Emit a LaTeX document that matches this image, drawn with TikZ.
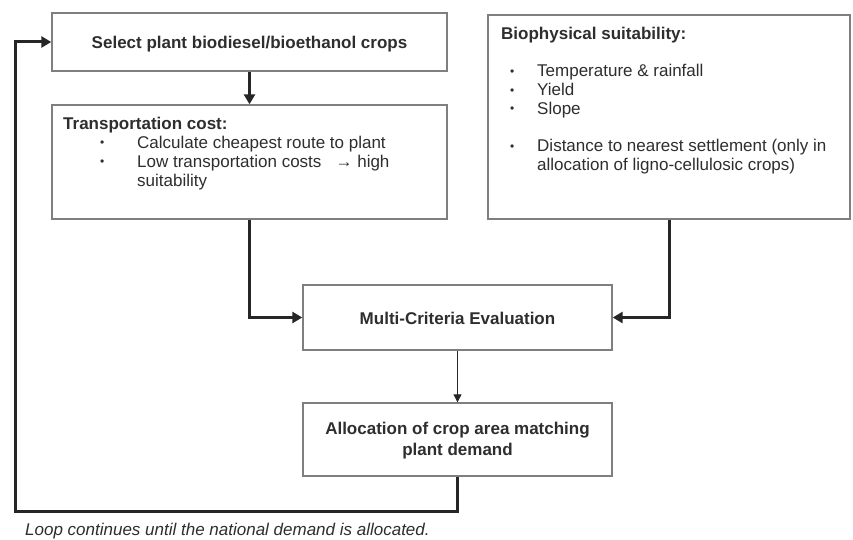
\documentclass[tikz,border=0pt]{standalone}
\usepackage{fontspec}
\setmainfont{Liberation Sans}
\usetikzlibrary{arrows.meta}
\definecolor{boxline}{HTML}{7F7F7F}
\definecolor{ink}{HTML}{2E2E2E}
\definecolor{flow}{HTML}{262626}
\newcommand\diagfont{\fontsize{17}{19}\selectfont}
\newcommand\bul{\raisebox{1.5pt}{\fontsize{12}{12}\selectfont\textbullet}}
\begin{document}
\begin{tikzpicture}[x=1pt,y=-1pt,
  box/.style={draw=boxline,line width=1.4pt,inner sep=0pt,fill=white},
  label/.style={text=ink,font=\diagfont,inner sep=0pt},
  boldlabel/.style={label,font=\diagfont\bfseries,align=center},
  list/.style={label,align=left,anchor=north west},
  heavy/.style={draw=flow,line width=3pt,-{Triangle[length=10pt,width=11pt]}},
  light/.style={draw=flow,line width=1.1pt,-{Triangle[length=8pt,width=8pt]}},
]
\useasboundingbox (0,0) rectangle (853,540);
\fill[white] (0,0) rectangle (853,540);

% boxes
\node[box,minimum width=395pt,minimum height=58pt]  (select) at (249.5,42)    {};
\node[box,minimum width=395pt,minimum height=114pt] (trans)  at (249.5,162)   {};
\node[box,minimum width=362pt,minimum height=204pt] (bio)    at (669,117)     {};
\node[box,minimum width=309pt,minimum height=65pt]  (mce)    at (457.5,317.5) {};
\node[box,minimum width=309pt,minimum height=73pt]  (alloc)  at (457.5,439.5) {};

% box texts
\node[boldlabel] (selecttxt) at (249.5,44) {Select plant biodiesel/bioethanol crops};
\node[boldlabel] (mcetxt) at (457.5,318) {Multi-Criteria Evaluation};
\node[boldlabel] (alloctxt) at (457.5,441) {Allocation of crop area matching\\[2pt]plant demand};

\node[list] (transtxt) at (63,116.8) {%
  \textbf{Transportation cost:}\\
  \makebox[74pt][l]{\hspace*{37pt}\bul}Calculate cheapest route to plant\\
  \makebox[74pt][l]{\hspace*{37pt}\bul}Low transportation costs \ \ → high\\
  \hspace*{74pt}suitability};

\node[list,font=\fontsize{17}{18.6}\selectfont] (biotxt) at (501,26.8) {%
  \textbf{Biophysical suitability:}\\[19pt]
  \makebox[36pt][l]{\hspace*{9pt}\bul}Temperature \& rainfall\\
  \makebox[36pt][l]{\hspace*{9pt}\bul}Yield\\
  \makebox[36pt][l]{\hspace*{9pt}\bul}Slope\\[19pt]
  \makebox[36pt][l]{\hspace*{9pt}\bul}Distance to nearest settlement (only in\\
  \hspace*{36pt}allocation of ligno-cellulosic crops)};

\node[label,font=\diagfont\itshape,anchor=base west] (looptxt) at (25,535)
  {Loop continues until the national demand is allocated.};

% connectors
\coordinate (loopcorner) at (15,511);
\draw[heavy] (select) -- (trans);
\draw[heavy] (trans.south) |- (mce.west);
\draw[heavy] (bio.south) |- (mce.east);
\draw[light] (mce) -- (alloc);
\draw[heavy] (alloc.south) |- (loopcorner) |- (select.west);
\end{tikzpicture}
\end{document}
